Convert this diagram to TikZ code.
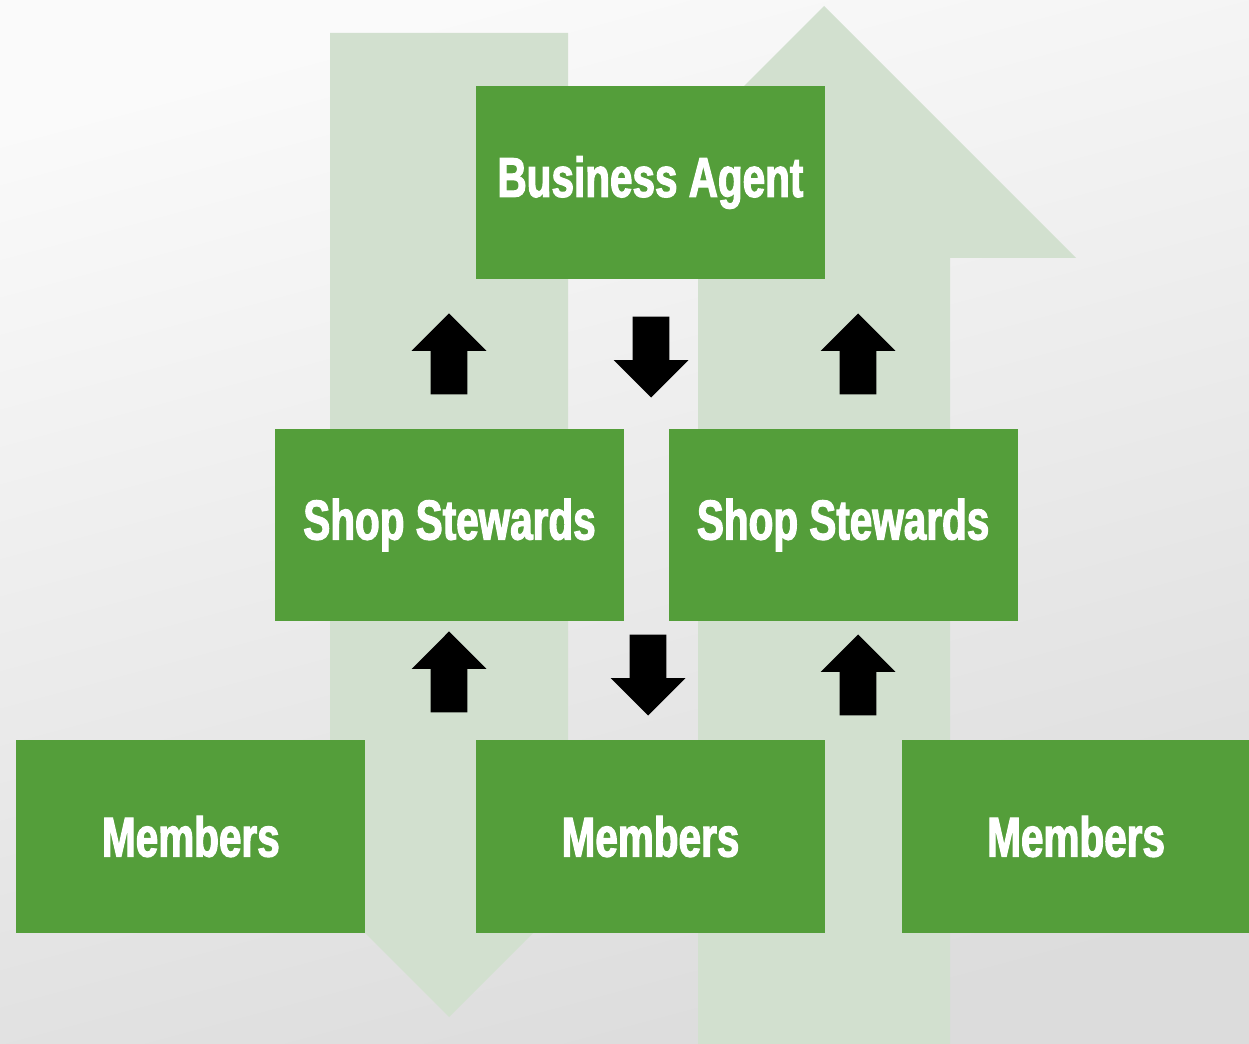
\documentclass[tikz,border=0pt]{standalone}
\usepackage{fontspec}
\usepackage{xcolor}
\usepackage{tikz}
\usetikzlibrary{positioning,shapes.arrows}
\newfontfamily\rolefont[FakeStretch=0.72,BoldFeatures={FakeBold=2}]{Liberation Sans}
\definecolor{URole}{HTML}{549E3A}
\definecolor{UFlow}{HTML}{D2E0CF}
\definecolor{UBgTop}{HTML}{FAFAFA}
\definecolor{UBgBot}{HTML}{DCDCDC}

\tikzset{
  rolebox/.style={fill=URole,text=white,inner sep=0pt,minimum width=6.98cm,minimum height=3.86cm,font=\rolefont\bfseries\fontsize{32}{38}\selectfont},
  blockarrow/.style={single arrow,fill=black,inner xsep=0.36cm,inner ysep=0pt,minimum width=1.48cm,minimum height=1.62cm,single arrow head extend=0.38cm,anchor=tip},
  uparrow/.style={blockarrow,shape border rotate=90},
  downarrow/.style={blockarrow,shape border rotate=270},
}

\begin{document}
\begin{tikzpicture}[x=0.02cm,y=-0.02cm]
\useasboundingbox (0,0) rectangle (1249,1044);
\shade[top color=UBgTop,bottom color=UBgBot,shading angle=15] (0,0) rectangle (1249,1044);
% big flows behind the boxes
\fill[UFlow] (330,33) -- (568,33) -- (568,851) -- (615,851) -- (449,1017) -- (283,851) -- (330,851) -- cycle;
\fill[UFlow] (698,1050) -- (698,258) -- (572,258) -- (824,6) -- (1076,258) -- (950,258) -- (950,1050) -- cycle;
% roles
\node[rolebox] (agent) at (650.5,182.5) {Business Agent};
\node[rolebox] (stewL) at (449.5,525) {Shop Stewards};
\node[rolebox,right=0.88cm of stewL] (stewR) {Shop Stewards};
\node[rolebox] (memM) at (650.5,836.5) {Members};
\node[rolebox,left=2.2cm of memM] (memL) {Members};
\node[rolebox,right=1.52cm of memM] (memR) {Members};
% small arrows between levels
\node[uparrow] (upL) at (449,313) {};
\node[downarrow] (downM) at (651,398) {};
\node[uparrow] (upR) at (858,313) {};
\node[uparrow] (upL2) at (449,631) {};
\node[downarrow] (downM2) at (648,716) {};
\node[uparrow] (upR2) at (858,634) {};
\end{tikzpicture}
\end{document}
